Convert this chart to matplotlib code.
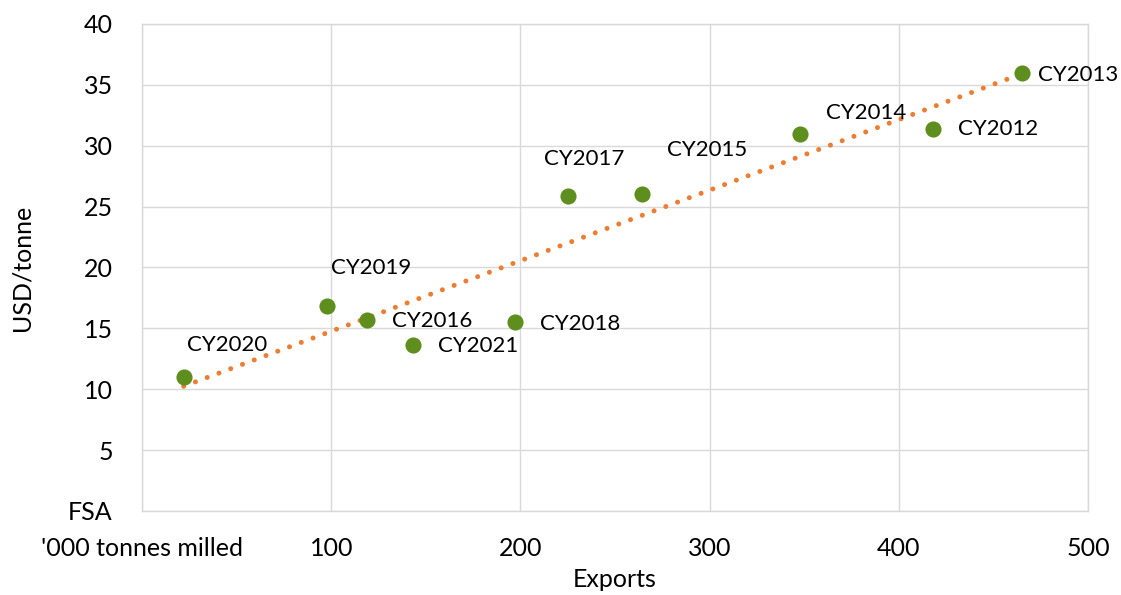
import numpy as np
import matplotlib
matplotlib.use("Agg")
import matplotlib.pyplot as plt

# Data
labels = ["CY2012", "CY2013", "CY2014", "CY2015", "CY2016", "CY2017",
          "CY2018", "CY2019", "CY2020", "CY2021"]
exports = [418, 465, 348, 264, 119, 225, 197, 98, 22, 143]
usd_per_tonne = [31.4, 36.0, 31.0, 26.0, 15.7, 25.9, 15.5, 16.8, 11.0, 13.6]
x_ticks = [0, 100, 200, 300, 400, 500]
x_tick_labels = ["'000 tonnes milled", "100", "200", "300", "400", "500"]
y_ticks = [0, 5, 10, 15, 20, 25, 30, 35, 40]
y_tick_labels = ["FSA", "5", "10", "15", "20", "25", "30", "35", "40"]

# Label offsets in pixels (left edge of text relative to point, vertical centre)
label_offsets = {
    "CY2020": (3, 32), "CY2019": (4, 38), "CY2016": (25, -1),
    "CY2021": (25, -1), "CY2018": (25, -2), "CY2017": (-24, 37),
    "CY2015": (25, 44), "CY2014": (26, 21), "CY2012": (25, 0),
    "CY2013": (16, -2),
}

plt.rcParams['font.family'] = ['Lato', 'DejaVu Sans']

fig = plt.figure(figsize=(11.21, 5.95), dpi=100)
ax = fig.add_axes([0.1267, 0.1412, 0.9706 - 0.1267, 0.9597 - 0.1412])

ax.set_xlim(0, 500)
ax.set_ylim(0, 40)
ax.set_xticks(x_ticks)
ax.set_xticklabels(x_tick_labels)
ax.set_yticks(y_ticks)
ax.set_yticklabels(y_tick_labels)
ax.tick_params(length=0, labelsize=18, colors='black')
ax.tick_params(axis='y', pad=21)
ax.tick_params(axis='x', pad=19)
ax.grid(True, color='#d9d9d9', linewidth=1.0, zorder=0)
for s in ax.spines.values():
    s.set_color('#d9d9d9')
    s.set_linewidth(1.0)

# Trendline (linear fit)
x = np.array(exports, dtype=float)
y = np.array(usd_per_tonne, dtype=float)
m, b = np.polyfit(x, y, 1)
xs = np.array([x.min(), x.max()])
ax.plot(xs, m * xs + b, color='#ED7D31', linewidth=3.6,
        linestyle=(0, (0.01, 2.5)), dash_capstyle='round', zorder=2)

ax.scatter(x, y, s=135, color='#5E8E1E', zorder=3, linewidths=0)

for lab, xi, yi in zip(labels, exports, usd_per_tonne):
    dx, dy = label_offsets[lab]
    ax.annotate(lab, (xi, yi), xytext=(dx, dy), textcoords='offset pixels',
                ha='left', va='center', fontsize=16, zorder=4)

ax.set_xlabel("Exports", fontsize=18, va='top')
ax.xaxis.set_label_coords(0.5, -0.117)
ax.set_ylabel("USD/tonne", fontsize=18, va='center')
ax.yaxis.set_label_coords(-0.127, 0.5)

fig.savefig("out.png", dpi=100)
